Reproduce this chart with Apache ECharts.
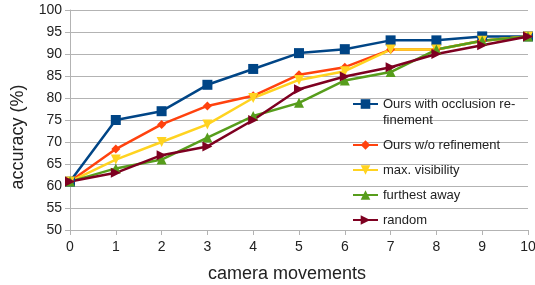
<!DOCTYPE html>
<html>
<head>
<meta charset="utf-8">
<script src="https://cdn.jsdelivr.net/npm/echarts@6/dist/echarts.min.js"></script>
<style>
  html, body { margin: 0; padding: 0; background: #fff; }
  #main { width: 535px; height: 285px; }
</style>
</head>
<body>
<div id="main"></div>
<script>
// camera movements 0..10
var moves = [0, 1, 2, 3, 4, 5, 6, 7, 8, 9, 10];
var oursOcclusion = [61, 75, 77, 83, 86.6, 90.2, 91.1, 93.1, 93.1, 94, 94];
var oursNoRefine = [61, 68.4, 74, 78.2, 80.5, 85.3, 87, 91, 91, 93, 94];
var maxVisibility = [61, 66, 70, 74, 80, 84.1, 86.1, 91, 91, 93, 94];
var furthestAway = [61, 64, 66, 71, 75.9, 78.9, 84, 85.9, 91, 93, 94];
var randomPick = [61, 63, 67, 69, 75, 82, 84.9, 87, 90, 92, 94];

function pairs(vals) {
    return vals.map(function (v, i) { return [moves[i], v]; });
}

var myChart = echarts.init(document.getElementById('main'));

var axisGray = '#b3b3b3';
var font = 'Liberation Sans';
var firstName = 'Ours with occlusion re-\nfinement';

function line(name, color, vals, symbol, size, rotate) {
    return {
        name: name,
        type: 'line',
        data: pairs(vals),
        symbol: symbol,
        symbolSize: size,
        symbolRotate: rotate || 0,
        lineStyle: { color: color, width: 2.5 },
        itemStyle: { color: color }
    };
}

var option = {
    animation: false,
    grid: { left: 70, right: 7, top: 10, bottom: 55, outerBoundsMode: 'none' },
    legend: {
        orient: 'vertical',
        left: 352,
        top: 80,
        padding: 0,
        itemWidth: 25,
        itemHeight: 12,
        itemGap: 9,
        textStyle: { fontFamily: font, fontSize: 13, color: '#222', lineHeight: 16 },
        // blank first line keeps the icon level with "Ours with occlusion re-"
        formatter: function (n) {
            return n === firstName ? '\n' + n : n;
        },
        data: [firstName, 'Ours w/o refinement', 'max. visibility', 'furthest away', 'random']
    },
    xAxis: {
        type: 'value',
        min: 0, max: 10, interval: 1,
        name: 'camera movements',
        nameLocation: 'middle',
        nameGap: 35,
        nameTextStyle: { fontFamily: font, fontSize: 18, color: '#222', padding: [0, 24, 0, 0] },
        axisLine: { show: true, lineStyle: { color: axisGray } },
        axisTick: { show: true, length: 5, lineStyle: { color: axisGray } },
        axisLabel: { fontFamily: font, fontSize: 14, color: '#222', margin: 10 },
        splitLine: { show: false }
    },
    yAxis: {
        type: 'value',
        min: 50, max: 100, interval: 5,
        name: 'accuracy (%)',
        nameLocation: 'middle',
        nameGap: 43,
        nameTextStyle: { fontFamily: font, fontSize: 18, color: '#222', padding: [0, 34, 0, 0] },
        axisLine: { show: true, lineStyle: { color: axisGray } },
        axisTick: { show: true, length: 5, lineStyle: { color: axisGray } },
        axisLabel: { fontFamily: font, fontSize: 14, color: '#222', margin: 8 },
        splitLine: { show: true, lineStyle: { color: axisGray } }
    },
    series: [
        line(firstName, '#004586', oursOcclusion, 'rect', 10),
        line('Ours w/o refinement', '#ff420e', oursNoRefine, 'diamond', 9),
        line('max. visibility', '#ffd320', maxVisibility, 'triangle', 10, 180),
        line('furthest away', '#579d1c', furthestAway, 'triangle', 10),
        line('random', '#7e0021', randomPick, 'triangle', 10, -90)
    ]
};

myChart.setOption(option);
</script>
</body>
</html>
